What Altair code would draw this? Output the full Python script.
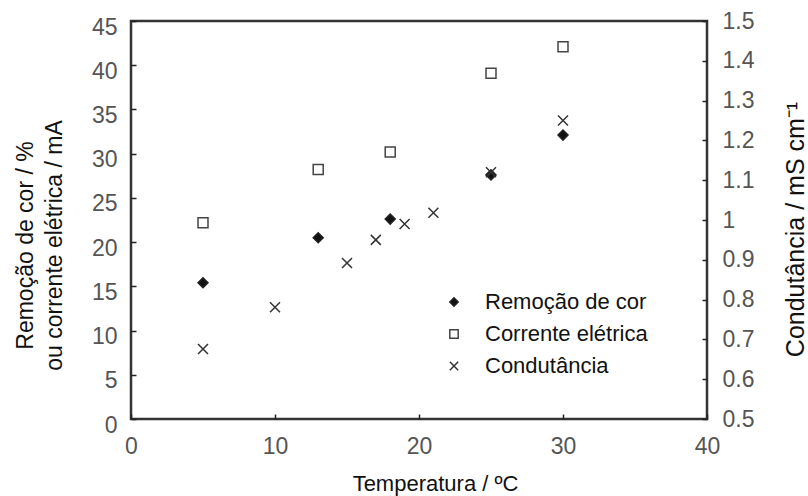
import altair as alt
import pandas as pd

# ---- data ----
series = ["Remoção de cor", "Corrente elétrica", "Condutância"]

temp_remocao = [5, 13, 18, 25, 30]
remocao = [15.4, 20.5, 22.6, 27.6, 32.1]

temp_corrente = [5, 13, 18, 25, 30]
corrente = [22.2, 28.2, 30.2, 39.1, 42.1]

temp_cond = [5, 10, 15, 17, 19, 21, 25, 30]
condutancia = [0.676, 0.781, 0.892, 0.95, 0.99, 1.018, 1.12, 1.25]

x_ticks = [0, 10, 20, 30, 40]
left_ticks = [0, 5, 10, 15, 20, 25, 30, 35, 40, 45]
right_ticks = [0.5, 0.6, 0.7, 0.8, 0.9, 1.0, 1.1, 1.2, 1.3, 1.4, 1.5]

left_df = pd.DataFrame({
    "temp": temp_remocao + temp_corrente,
    "val": remocao + corrente,
    "serie": [series[0]] * len(remocao) + [series[1]] * len(corrente),
})
right_df = pd.DataFrame({
    "temp": temp_cond,
    "val": condutancia,
    "serie": [series[2]] * len(condutancia),
})

FONT = "Liberation Sans"
XPATH = "M-1,-1L1,1M-1,1L1,-1"

shape_scale = alt.Scale(domain=series, range=["diamond", "square", XPATH])
fill_scale = alt.Scale(domain=series, range=["#111111", "transparent", "transparent"])
stroke_scale = alt.Scale(domain=series, range=["#222222", "#444444", "#333333"])

legend = alt.Legend(
    title=None, orient="none", legendX=312, legendY=270, padding=0,
    labelFont=FONT, labelFontSize=22, labelColor="#111111", labelLimit=0,
    rowPadding=10, labelOffset=20, symbolSize=70,
    symbolStrokeWidth=1.5,
)

x_enc = alt.X(
    "temp:Q",
    scale=alt.Scale(domain=[0, 40], nice=False),
    axis=alt.Axis(
        values=x_ticks, offset=-5, tickSize=5, domain=False, grid=False,
        labelPadding=16, labelFontSize=23, labelFont=FONT, labelColor="#555555",
        tickColor="#222222", tickWidth=1.5, labelFlush=False,
        title="Temperatura / ºC", titleFont=FONT, titleFontSize=22,
        titleFontWeight="normal", titleColor="#111111",
        titleX=304, titleY=76, titleAlign="center", titleBaseline="alphabetic",
    ),
)

pts_kw = dict(filled=False, strokeWidth=1.5, size=100, opacity=1)


def enc_series():
    return dict(
        shape=alt.Shape("serie:N", scale=shape_scale, legend=legend),
        fill=alt.Fill("serie:N", scale=fill_scale, legend=legend),
        stroke=alt.Stroke("serie:N", scale=stroke_scale, legend=legend),
    )


left = alt.Chart(left_df).mark_point(**pts_kw).encode(
    x=x_enc,
    y=alt.Y(
        "val:Q",
        scale=alt.Scale(domain=[0, 45], nice=False),
        axis=alt.Axis(
            orient="left", values=left_ticks, offset=-5, tickSize=5,
            domain=False, grid=False, labelPadding=14, labelOffset=6,
            labelFontSize=23, labelFont=FONT, labelColor="#555555",
            tickColor="#222222", tickWidth=1.5,
            title=["Remoção de cor / %", "ou corrente elétrica / mA"],
            titleFont=FONT, titleFontSize=23, titleFontWeight="normal",
            titleColor="#111111", titleAngle=270, titleLineHeight=29,
            titleX=-111, titleY=224, titleAlign="center", titleBaseline="middle",
        ),
    ),
    **enc_series(),
)

right = alt.Chart(right_df).mark_point(**pts_kw).encode(
    x=x_enc,
    y=alt.Y(
        "val:Q",
        scale=alt.Scale(domain=[0.5, 1.5], nice=False, zero=False),
        axis=alt.Axis(
            orient="right", values=right_ticks, offset=-5, tickSize=5,
            domain=False, grid=False, labelPadding=15, format=".2~f",
            labelFontSize=23, labelFont=FONT, labelColor="#555555",
            tickColor="#222222", tickWidth=1.5,
            title="Condutância / mS cm⁻¹",
            titleFont=FONT, titleFontSize=25, titleFontWeight="normal",
            titleColor="#111111", titleAngle=270,
            titleX=93, titleY=208, titleAlign="center", titleBaseline="middle",
        ),
    ),
    **enc_series(),
)

chart = alt.layer(left, right).resolve_scale(y="independent").properties(
    width=576, height=398,
    autosize=alt.AutoSizeParams(type="none"),
    padding={"left": 131, "top": 21, "right": 101, "bottom": 77},
    background="white",
).configure_view(stroke="#333333", strokeWidth=2.5)

chart.save("out.html", embed_options={"renderer": "svg", "actions": False})
